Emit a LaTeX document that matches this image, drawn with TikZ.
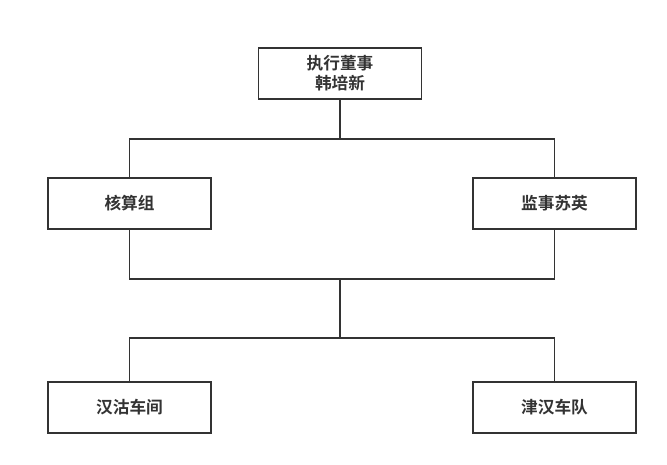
\documentclass[tikz,border=0pt]{standalone}
\usepackage{fontspec}
\setmainfont{Noto Sans CJK SC}[BoldFont={Noto Sans CJK SC Bold}]
\usepackage{tikz}
\usetikzlibrary{calc}
\usetikzlibrary{positioning}
\tikzstyle{unit} = [rectangle, draw=black!80, line width=1.1pt, fill=white, minimum width=122.5pt, minimum height=38.2pt, inner sep=0pt, align=center, font=\fontsize{12.5}{15}\selectfont\bfseries, text=black!80]
\tikzstyle{link} = [-, draw=black!80, line width=1.1pt]

\begin{document}
\begin{tikzpicture}[x=0.75pt, y=-0.75pt]
\useasboundingbox (0, 0) rectangle (667, 464);
\node [unit] (exec) at (340, 73.5) {执行董事\\韩培新};
\node [unit] (hesuan) at (129.5, 203.5) {核算组};
\node [unit] (jianshi) at (554.5, 203.5) {监事苏英};
\node [unit] (hangu) at (129.5, 407.5) {汉沽车间};
\node [unit] (jinhan) at (554.5, 407.5) {津汉车队};
\coordinate (j1) at (340, 139);
\coordinate (j2) at (340, 279);
\coordinate (j3) at (340, 338);
\draw [link] (exec.south) to (j1);
\draw [link] (hesuan.north) |- (j1) -| (jianshi.north);
\draw [link] (hesuan.south) |- (j2) -| (jianshi.south);
\draw [link] (j2) to (j3);
\draw [link] (hangu.north) |- (j3) -| (jinhan.north);
\end{tikzpicture}
\end{document}
